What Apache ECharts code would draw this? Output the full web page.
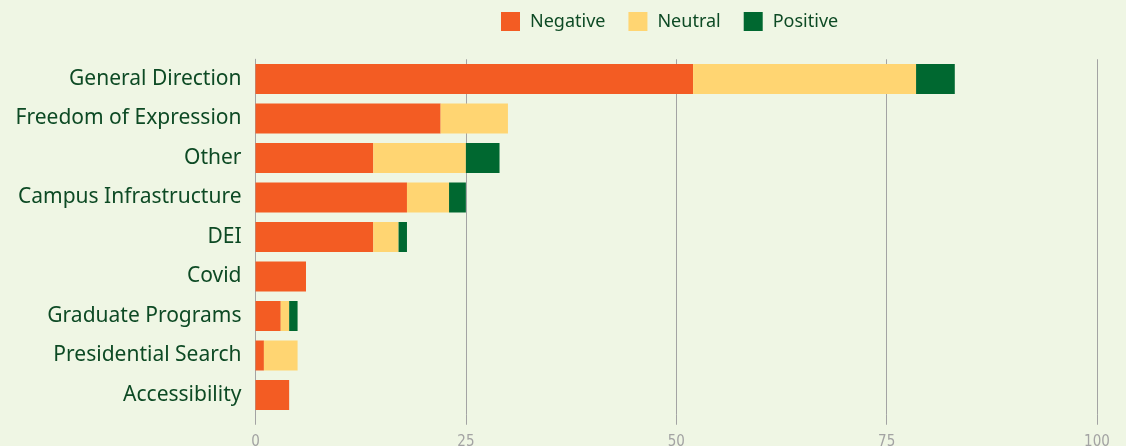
<!DOCTYPE html>
<html>
<head>
<meta charset="utf-8">
<script src="https://cdn.jsdelivr.net/npm/echarts@6/dist/echarts.min.js"></script>
<style>
  html, body { margin: 0; padding: 0; background: #eff6e4; }
  #chart { width: 1126px; height: 446px; }
</style>
</head>
<body>
<div id="chart"></div>
<script>
  // topics, top to bottom
  const categories = [
    'General Direction', 'Freedom of Expression', 'Other', 'Campus Infrastructure',
    'DEI', 'Covid', 'Graduate Programs', 'Presidential Search', 'Accessibility'
  ];
  const negative = [52, 22, 14, 18, 14, 6, 3, 1, 4];
  const neutral = [26.5, 8, 11, 5, 3, 0, 1, 4, 0];
  const positive = [4.6, 0, 4, 2, 1, 0, 1, 0, 0];
  const xTicks = [0, 25, 50, 75, 100];

  const textColor = '#0d4a24';
  const gridColor = '#a3a3a3';

  const chart = echarts.init(document.getElementById('chart'));

  const bar = (name, data, color) => ({
    name: name,
    type: 'bar',
    stack: 'total',
    barWidth: 30,
    data: data,
    itemStyle: { color: color },
    emphasis: { disabled: true }
  });

  chart.setOption({
    backgroundColor: '#eff6e4',
    animation: false,
    legend: {
      top: 12,
      left: 501,
      padding: 0,
      itemWidth: 19,
      itemHeight: 19,
      itemGap: 23,
      icon: 'rect',
      textStyle: { color: textColor, fontSize: 18, fontFamily: 'Noto Sans', padding: [0, 0, 0, 5] },
      data: ['Negative', 'Neutral', 'Positive']
    },
    grid: {
      left: 255.5,
      right: 29,
      top: 59.25,
      height: 355.5,
      containLabel: false,
      outerBoundsMode: 'none'
    },
    xAxis: {
      type: 'value',
      min: xTicks[0],
      max: xTicks[xTicks.length - 1],
      interval: 25,
      axisLine: { show: false },
      axisTick: { show: true, length: 10, lineStyle: { color: gridColor } },
      splitLine: { show: true, lineStyle: { color: gridColor, width: 1 } },
      axisLabel: {
        color: '#a3a3a3',
        fontSize: 15,
        fontFamily: 'DejaVu Sans Condensed',
        fontStretch: 'condensed',
        margin: 20
      }
    },
    yAxis: {
      type: 'category',
      inverse: true,
      data: categories,
      axisLine: { show: true, lineStyle: { color: gridColor } },
      axisTick: { show: false },
      axisLabel: {
        color: textColor,
        fontSize: 21,
        fontFamily: 'Noto Sans',
        margin: 14
      }
    },
    series: [
      bar('Negative', negative, '#f35c23'),
      bar('Neutral', neutral, '#ffd572'),
      bar('Positive', positive, '#006830')
    ]
  });
</script>
</body>
</html>
